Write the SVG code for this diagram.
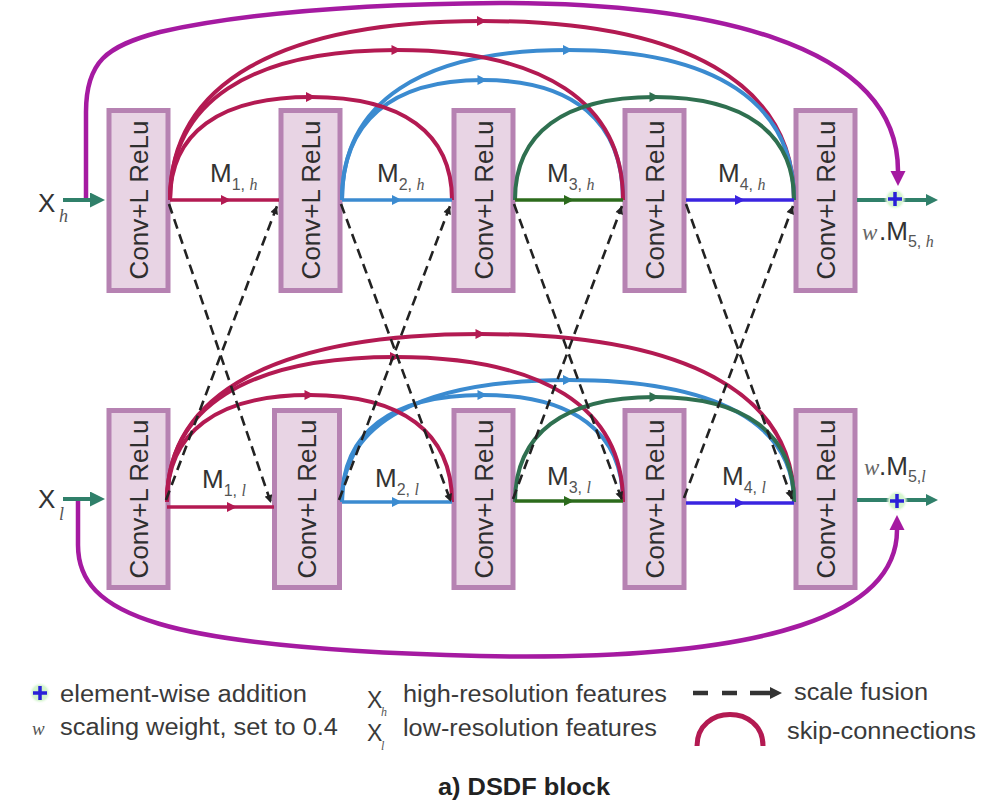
<svg xmlns="http://www.w3.org/2000/svg" width="984" height="804" viewBox="0 0 984 804">
<defs>
<style>
.box{fill:#e8d4e4;stroke:#b682b2;stroke-width:5}
.bt{font-family:"Liberation Sans",Arial,sans-serif;font-size:26px;fill:#2e2e2e;text-anchor:middle}
.lab{font-family:"Liberation Sans",Arial,sans-serif;font-size:26px;fill:#333}
.sub{font-family:"Liberation Sans",Arial,sans-serif;font-size:16px;fill:#555}
.it{font-family:"Liberation Serif","Times New Roman",serif;font-style:italic}
.leg{font-family:"Liberation Sans",Arial,sans-serif;font-size:23px;fill:#3a3a3a}
.sk{fill:none;stroke-width:4}
.ml{fill:none;stroke-width:3.5}
.red{stroke:#b31a52}
.blu{stroke:#3b8bd0}
.grn{stroke:#2f7050}
.dash{fill:none;stroke:#222;stroke-width:2.6;stroke-dasharray:10 6}
.pur{fill:none;stroke:#a51aa1;stroke-width:4.5}
.teal{fill:none;stroke:#30806a;stroke-width:4}
.plus{stroke:#2a20d8;stroke-width:3.5;fill:none}
</style>
<radialGradient id="glow">
<stop offset="0" stop-color="#c9f2c2"/>
<stop offset="0.7" stop-color="#d8f6d2"/>
<stop offset="1" stop-color="#ffffff" stop-opacity="0"/>
</radialGradient>
<marker id="mR" viewBox="0 0 10 10" refX="5" refY="5" markerWidth="12" markerHeight="10" markerUnits="userSpaceOnUse" orient="auto"><path d="M0,0 L10,5 L0,10 z" fill="#b31a52"/></marker>
<marker id="mB" viewBox="0 0 10 10" refX="5" refY="5" markerWidth="12" markerHeight="10" markerUnits="userSpaceOnUse" orient="auto"><path d="M0,0 L10,5 L0,10 z" fill="#3b8bd0"/></marker>
<marker id="mG" viewBox="0 0 10 10" refX="5" refY="5" markerWidth="12" markerHeight="10" markerUnits="userSpaceOnUse" orient="auto"><path d="M0,0 L10,5 L0,10 z" fill="#2f7050"/></marker>
<marker id="mG2" viewBox="0 0 10 10" refX="5" refY="5" markerWidth="12" markerHeight="10" markerUnits="userSpaceOnUse" orient="auto"><path d="M0,0 L10,5 L0,10 z" fill="#2c6b1c"/></marker>
<marker id="mV" viewBox="0 0 10 10" refX="5" refY="5" markerWidth="12" markerHeight="10" markerUnits="userSpaceOnUse" orient="auto"><path d="M0,0 L10,5 L0,10 z" fill="#3a24e0"/></marker>
<marker id="mK" viewBox="0 0 10 10" refX="10" refY="5" markerWidth="9" markerHeight="8" markerUnits="userSpaceOnUse" orient="auto"><path d="M0,0 L10,5 L0,10 z" fill="#222"/></marker>
<marker id="mP" viewBox="0 0 10 10" refX="0" refY="5" markerWidth="15" markerHeight="19" markerUnits="userSpaceOnUse" orient="auto"><path d="M0,0 L10,5 L0,10 z" fill="#a51aa1"/></marker>
<marker id="mT" viewBox="0 0 10 10" refX="0" refY="5" markerWidth="18" markerHeight="15" markerUnits="userSpaceOnUse" orient="auto"><path d="M0,0 L10,5 L0,10 z" fill="#30806a"/></marker>
<marker id="mT2" viewBox="0 0 10 10" refX="0" refY="5" markerWidth="16" markerHeight="12" markerUnits="userSpaceOnUse" orient="auto"><path d="M0,0 L10,5 L0,10 z" fill="#30806a"/></marker>
<marker id="mL" viewBox="0 0 10 10" refX="0" refY="5" markerWidth="12" markerHeight="12" markerUnits="userSpaceOnUse" orient="auto"><path d="M0,0 L10,5 L0,10 z" fill="#333"/></marker>
</defs>
<rect width="984" height="804" fill="#ffffff"/>

<!-- nodes: top row -->
<g id="h1"><rect class="box" x="109" y="110.5" width="59" height="180"/><text class="bt" transform="translate(147.5,200) rotate(-90)">Conv+L ReLu</text></g>
<g id="h2"><rect class="box" x="281" y="110.5" width="59" height="180"/><text class="bt" transform="translate(319.5,200) rotate(-90)">Conv+L ReLu</text></g>
<g id="h3"><rect class="box" x="454" y="110.5" width="59" height="180"/><text class="bt" transform="translate(492.5,200) rotate(-90)">Conv+L ReLu</text></g>
<g id="h4"><rect class="box" x="625" y="110.5" width="59" height="180"/><text class="bt" transform="translate(663.5,200) rotate(-90)">Conv+L ReLu</text></g>
<g id="h5"><rect class="box" x="796" y="110.5" width="59" height="180"/><text class="bt" transform="translate(834.5,200) rotate(-90)">Conv+L ReLu</text></g>
<!-- nodes: bottom row -->
<g id="l1"><rect class="box" x="109" y="410.5" width="59" height="177"/><text class="bt" transform="translate(147.5,499) rotate(-90)">Conv+L ReLu</text></g>
<g id="l2"><rect class="box" x="274.5" y="410.5" width="65" height="177"/><text class="bt" transform="translate(316,499) rotate(-90)">Conv+L ReLu</text></g>
<g id="l3"><rect class="box" x="454" y="410.5" width="59" height="177"/><text class="bt" transform="translate(492.5,499) rotate(-90)">Conv+L ReLu</text></g>
<g id="l4"><rect class="box" x="625" y="410.5" width="59" height="177"/><text class="bt" transform="translate(663.5,499) rotate(-90)">Conv+L ReLu</text></g>
<g id="l5"><rect class="box" x="796" y="410.5" width="59" height="177"/><text class="bt" transform="translate(834.5,499) rotate(-90)">Conv+L ReLu</text></g>

<g id="connectors">
<!-- outer purple skips -->
<path class="pur" d="M86 200 L86 112 C86 62 106 46 160 32 C240 14 360 4 500 3 C700 3 898 40 898 171" marker-end="url(#mP)"/>
<path class="pur" d="M78 500 L78 545 C78 615 160 648 480 656 C780 662 897 610 897 530" marker-end="url(#mP)"/>

<!-- top skip arcs -->
<path class="sk red" marker-mid="url(#mR)" d="M170 200 C170 83.6 279.2 21 482 21 C684.8 21 794 83.6 794 200"/>
<path class="sk blu" marker-mid="url(#mB)" d="M342 200 C342 102.5 421.1 50 568 50 C714.9 50 794 102.5 794 200"/>
<path class="sk blu" marker-mid="url(#mB)" d="M342 200 C342 122 391.2 80 482.5 80 C573.8 80 623 122 623 200"/>
<path class="sk red" marker-mid="url(#mR)" d="M170 200 C170 102.5 249.3 50 396.5 50 C543.7 50 623 102.5 623 200"/>
<path class="sk red" marker-mid="url(#mR)" d="M170 200 C170 133 219.4 97 311 97 C402.6 97 452 133 452 200"/>
<path class="sk grn" marker-mid="url(#mG)" d="M515 200 C515 133 563.8 97 654.5 97 C745.2 97 794 133 794 200"/>

<!-- bottom skip arcs -->
<path class="sk red" marker-mid="url(#mR)" d="M167 502 C167 392.8 276.7 334 480.5 334 C684.3 334 794 392.8 794 502"/>
<path class="sk blu" marker-mid="url(#mB)" d="M342 502 C342 422.7 421.1 380 568 380 C714.9 380 794 422.7 794 502"/>
<path class="sk blu" marker-mid="url(#mB)" d="M342 502 C342 432.4 391.2 395 482.5 395 C573.8 395 623 432.4 623 502"/>
<path class="sk red" marker-mid="url(#mR)" d="M167 502 C167 407.8 246.8 357 395 357 C543.2 357 623 407.8 623 502"/>
<path class="sk red" marker-mid="url(#mR)" d="M167 502 C167 432.4 216.9 395 309.5 395 C402.1 395 452 432.4 452 502"/>
<path class="sk grn" marker-mid="url(#mG)" d="M515 502 C515 433.8 563.8 397 654.5 397 C745.2 397 794 433.8 794 502"/>

<!-- main lines top -->
<path class="ml red" marker-mid="url(#mR)" d="M170 200 L226 200 L279 200"/>
<path class="ml blu" marker-mid="url(#mB)" d="M342 200 L397 200 L452 200"/>
<path class="ml" stroke="#2c6b1c" marker-mid="url(#mG2)" d="M515 200 L569 200 L623 200"/>
<path class="ml" stroke="#3a24e0" marker-mid="url(#mV)" d="M686 200 L740 200 L794 200"/>
<!-- main lines bottom -->
<path class="ml red" marker-mid="url(#mR)" d="M167 507 L232 507 L274 507"/>
<path class="ml blu" marker-mid="url(#mB)" d="M342 502 L397 502 L452 502"/>
<path class="ml" stroke="#2c6b1c" marker-mid="url(#mG2)" d="M515 501 L569 501 L623 501"/>
<path class="ml" stroke="#3a24e0" marker-mid="url(#mV)" d="M686 503 L740 503 L794 503"/>

<!-- scale fusion dashed -->
<path class="dash" marker-end="url(#mK)" d="M169 204 L271 503"/>
<path class="dash" marker-end="url(#mK)" d="M166 500 L277 206"/>
<path class="dash" marker-end="url(#mK)" d="M341 204 L451 502"/>
<path class="dash" marker-end="url(#mK)" d="M339 500 L450 206"/>
<path class="dash" marker-end="url(#mK)" d="M514 204 L622 500"/>
<path class="dash" marker-end="url(#mK)" d="M513 499 L622 206"/>
<path class="dash" marker-end="url(#mK)" d="M686 204 L792 499"/>
<path class="dash" marker-end="url(#mK)" d="M684 498 L793 206"/>

<!-- inputs -->
<path class="teal" marker-end="url(#mT)" d="M63 200 L90 200"/>
<path class="teal" marker-end="url(#mT)" d="M63 499 L90 499"/>
<!-- outputs -->
<path class="teal" stroke-width="3.5" marker-end="url(#mT2)" d="M857 200 L926 200"/>
<path class="teal" stroke-width="3.5" marker-end="url(#mT2)" d="M857 500 L926 500"/>
</g>

<g id="add_h"><circle cx="895" cy="199" r="11" fill="url(#glow)"/><path class="plus" d="M888 199 H902 M895 192 V206"/></g>
<g id="add_l"><circle cx="897" cy="501" r="11" fill="url(#glow)"/><path class="plus" d="M890 501 H904 M897 494 V508"/></g>

<!-- labels -->
<g id="labels">
<text class="lab" x="38" y="212">X</text><text class="sub it" x="59" y="222" style="font-size:18px">h</text>
<text class="lab" x="38" y="508">X</text><text class="sub it" x="59" y="520" style="font-size:18px">l</text>

<text class="lab" x="210" y="182">M<tspan class="sub" dy="8">1, </tspan><tspan class="sub it">h</tspan></text>
<text class="lab" x="377" y="182">M<tspan class="sub" dy="8">2, </tspan><tspan class="sub it">h</tspan></text>
<text class="lab" x="547" y="182">M<tspan class="sub" dy="8">3, </tspan><tspan class="sub it">h</tspan></text>
<text class="lab" x="718" y="182">M<tspan class="sub" dy="8">4, </tspan><tspan class="sub it">h</tspan></text>
<text class="it" x="862" y="240" style="font-size:23px;fill:#666">w</text>
<text class="lab" x="879" y="240">.M<tspan class="sub" dy="7">5, </tspan><tspan class="sub it">h</tspan></text>

<text class="lab" x="202" y="488">M<tspan class="sub" dy="8">1, </tspan><tspan class="sub it">l</tspan></text>
<text class="lab" x="375" y="487">M<tspan class="sub" dy="8">2, </tspan><tspan class="sub it">l</tspan></text>
<text class="lab" x="547" y="485">M<tspan class="sub" dy="8">3, </tspan><tspan class="sub it">l</tspan></text>
<text class="lab" x="722" y="485">M<tspan class="sub" dy="8">4, </tspan><tspan class="sub it">l</tspan></text>
<text class="it" x="864" y="475" style="font-size:23px;fill:#666">w</text>
<text class="lab" x="879" y="475">.M<tspan class="sub" dy="7">5,</tspan><tspan class="sub it">l</tspan></text>
</g>

<!-- legend -->
<g id="legend">
<circle cx="40" cy="693" r="11" fill="url(#glow)"/><path class="plus" d="M33 693 H47 M40 686 V700"/>
<text class="leg" x="60" y="702" textLength="247" lengthAdjust="spacingAndGlyphs">element-wise addition</text>
<text class="it" x="32" y="735" font-size="19" fill="#555">w</text>
<text class="leg" x="60" y="735" textLength="278" lengthAdjust="spacingAndGlyphs">scaling weight, set to 0.4</text>
<text class="leg" x="367" y="708" font-size="22">X</text><text class="it" x="381" y="716" font-size="12" fill="#555">h</text>
<text class="leg" x="403" y="702" textLength="264" lengthAdjust="spacingAndGlyphs">high-resolution features</text>
<text class="leg" x="367" y="741" font-size="22">X</text><text class="it" x="381" y="750" font-size="12" fill="#555">l</text>
<text class="leg" x="403" y="736" textLength="254" lengthAdjust="spacingAndGlyphs">low-resolution features</text>
<path d="M693 693 H708 M722 693 H737 M750 693 H770" fill="none" stroke="#333" stroke-width="4.5" marker-end="url(#mL)"/>
<text class="leg" x="794" y="700" textLength="134" lengthAdjust="spacingAndGlyphs">scale fusion</text>
<path d="M697 746 C697 704 763 704 763 746" fill="none" stroke="#b31a52" stroke-width="5"/>
<text class="leg" x="787" y="739" textLength="189" lengthAdjust="spacingAndGlyphs">skip-connections</text>
<text x="438" y="795" font-family="Liberation Sans, Arial, sans-serif" font-size="23" font-weight="bold" fill="#222" textLength="172" lengthAdjust="spacingAndGlyphs">a) DSDF block</text>
</g>
</svg>
